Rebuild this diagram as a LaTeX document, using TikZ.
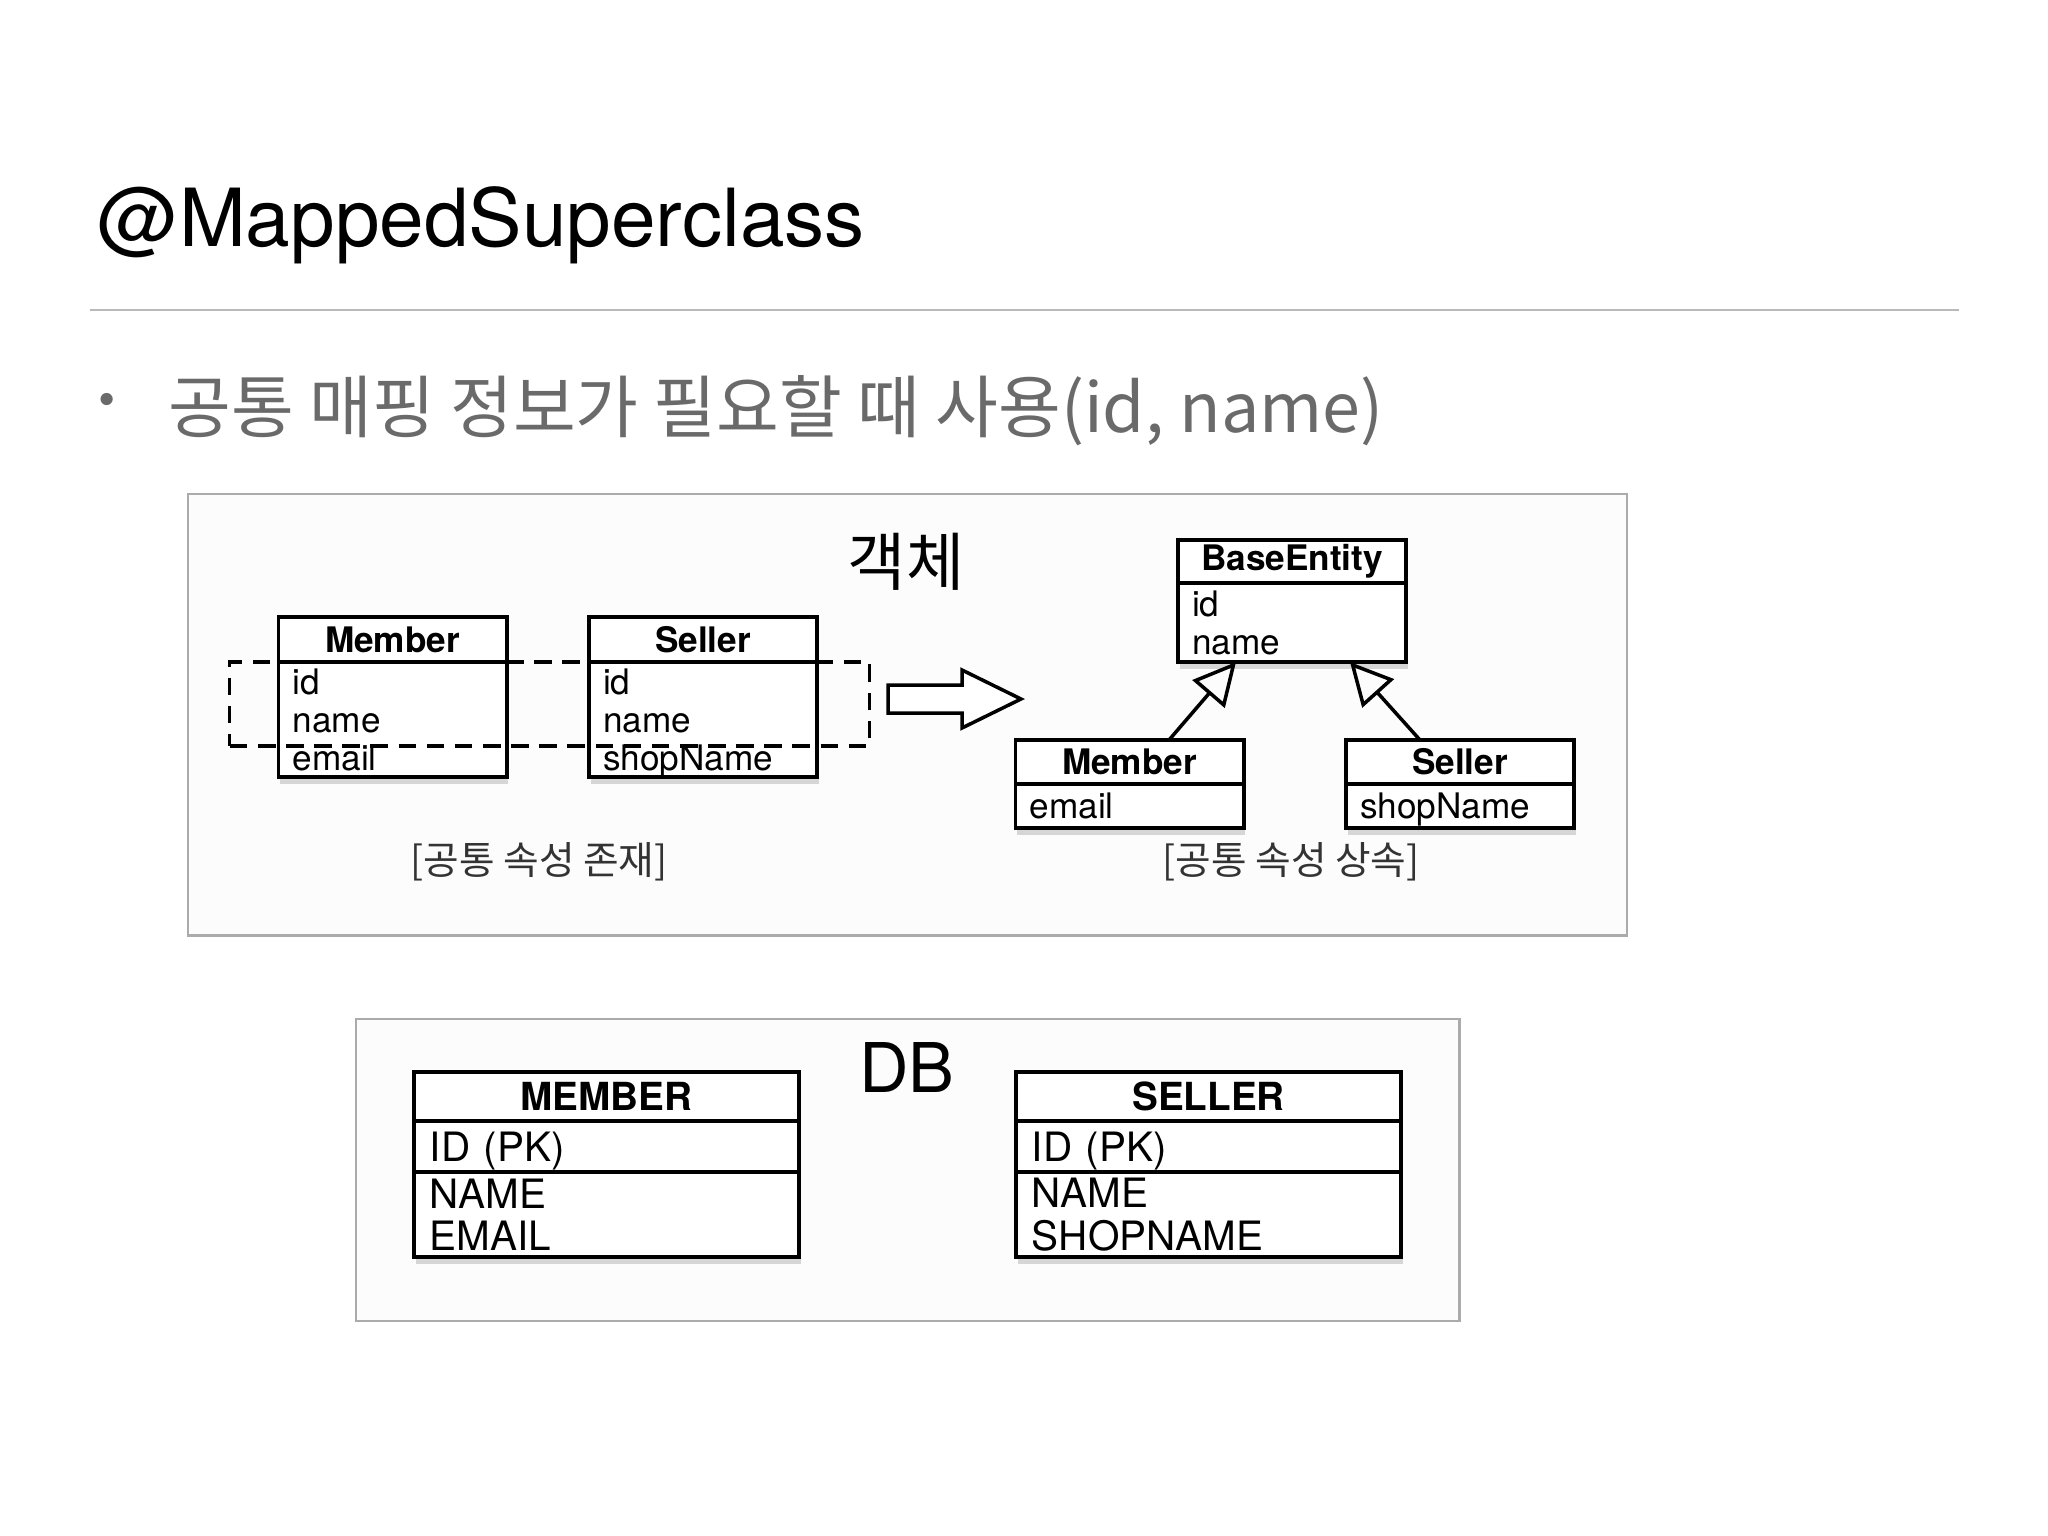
\documentclass[tikz,border=0pt]{standalone}
\usepackage{fontspec}
\setmainfont{TeX Gyre Heros}
\newfontfamily\krfont{Noto Sans CJK KR}
\usetikzlibrary{positioning,arrows.meta,shadows}

\definecolor{rulegray}{HTML}{B9B9B9}
\definecolor{subgray}{HTML}{6A6A6A}
\definecolor{panelline}{HTML}{ABABAB}
\definecolor{panelfill}{HTML}{FCFCFC}

% text without depth, so rows stay on the same baselines
\newcommand{\flatbase}[1]{\raisebox{0pt}[\height][0pt]{#1}}

\begin{document}
\begin{tikzpicture}[x=0.01cm, y=-0.01cm,
    panel/.style={draw=panelline, fill=panelfill, line width=0.7pt, inner sep=0pt, outer sep=0pt},
    umlhead/.style={draw, fill=white, line width=1.1pt, outer sep=0pt, inner sep=0pt, minimum width=2.28cm, font=\fontsize{10}{12}\selectfont\bfseries},
    umlbody/.style={draw, fill=white, line width=1.1pt, outer sep=0pt, inner xsep=4pt, inner ysep=0pt, minimum width=2.28cm, text width=56.8pt, align=left, font=\fontsize{10}{10.8}\selectfont, drop shadow={shadow xshift=0.5pt, shadow yshift=-2pt, opacity=0.3}},
    dbhead/.style={draw, fill=white, line width=1.2pt, outer sep=0pt, inner sep=0pt, minimum width=3.85cm, font=\fontsize{11}{13}\selectfont\bfseries},
    dbbody/.style={draw, fill=white, line width=1.2pt, outer sep=0pt, inner xsep=4.5pt, inner ysep=0pt, minimum width=3.85cm, text width=100.4pt, align=left, font=\fontsize{11.5}{12.1}\selectfont},
    caption/.style={font=\krfont\fontsize{11}{13}\selectfont, text=black!80},
    isa/.style={line width=1pt, -{Triangle[open, length=12pt, width=12pt]}}
  ]
  \useasboundingbox (0,0) rectangle (2048,1536);

  % Title
  \node[anchor=base west, inner sep=0pt, font=\fontsize{22.8}{28}\selectfont] (title) at (97,246) {@MappedSuperclass};
  \draw[rulegray, line width=0.8pt] (90,310) -- (1959,310);

  % Bullet
  \node[text=subgray, font=\fontsize{14}{16}\selectfont] (dot) at (107,405) {\textbullet};
  \node[anchor=base west, inner sep=0pt, text=subgray, font=\krfont\fontsize{19.4}{24}\selectfont] (point) at (168,432) {공통 매핑 정보가 필요할 때 사용(id, name)};

  % Object panel
  \node[panel, anchor=north west, minimum width=14.38cm, minimum height=4.41cm] (objPanel) at (188,494) {};
  \node[font=\krfont\fontsize{18}{22}\selectfont] (objTitle) at (906,562) {객체};

  % common attributes
  \node[umlhead, minimum height=0.45cm] (memLHead) at (392.5,639.5) {Member};
  \node[umlbody, minimum height=1.15cm, below=0pt of memLHead] (memLBody) {id\\name\\email};
  \node[umlhead, minimum height=0.45cm] (selLHead) at (703,639.5) {Seller};
  \node[umlbody, minimum height=1.15cm, below=0pt of selLHead] (selLBody) {id\\name\\\flatbase{shopName}};
  \node[draw, line width=0.9pt, dash pattern=on 5pt off 3pt, minimum width=6.39cm, minimum height=0.84cm, inner sep=0pt] (common) at (549.5,704) {};
  \node[caption] (leftCap) at (539,862) {[공통 속성 존재]};

  % Arrow
  \draw[line width=1pt, fill=white] (888,685) -- (962,685) -- (962,670) -- (1021,699)
    -- (962,728) -- (962,713) -- (888,713) -- cycle;

  % Inheritance
  \node[umlhead, minimum height=0.43cm] (baseHead) at (1292,561.5) {BaseEntity};
  \node[umlbody, minimum height=0.79cm, below=0pt of baseHead] (baseBody) {id\\name};
  \node[umlhead, minimum height=0.44cm] (memRHead) at (1129.5,762) {Member};
  \node[umlbody, minimum height=0.44cm, below=0pt of memRHead] (memRBody) {email};
  \node[umlhead, minimum height=0.44cm] (selRHead) at (1460,762) {Seller};
  \node[umlbody, minimum height=0.44cm, below=0pt of selRHead] (selRBody) {\flatbase{shopName}};
  \draw[isa] ([xshift=0.395cm]memRHead.north) -- ([xshift=-0.56cm]baseBody.south);
  \draw[isa] ([xshift=-0.40cm]selRHead.north) -- ([xshift=0.58cm]baseBody.south);
  \node[caption] (rightCap) at (1291,862) {[공통 속성 상속]};

  % DB panel
  \node[panel, anchor=north west, minimum width=11.03cm, minimum height=3.02cm] (dbPanel) at (356,1019) {};
  \node[font=\fontsize{19.5}{23}\selectfont] (dbTitle) at (907,1067) {DB};

  \node[dbhead, minimum height=0.49cm] (memTHead) at (606.5,1096.5) {MEMBER};
  \node[dbbody, minimum height=0.51cm, below=0pt of memTHead] (memTKey) {\flatbase{ID (PK)}};
  \node[dbbody, minimum height=0.85cm, below=0pt of memTKey, drop shadow={shadow xshift=0.5pt, shadow yshift=-2pt, opacity=0.3}] (memTCols) {NAME\\EMAIL};

  \node[dbhead, minimum height=0.49cm] (selTHead) at (1208.5,1096.5) {SELLER};
  \node[dbbody, minimum height=0.51cm, below=0pt of selTHead] (selTKey) {\flatbase{ID (PK)}};
  \node[dbbody, minimum height=0.85cm, below=0pt of selTKey, drop shadow={shadow xshift=0.5pt, shadow yshift=-2pt, opacity=0.3}] (selTCols) {NAME\\SHOPNAME};
\end{tikzpicture}
\end{document}
